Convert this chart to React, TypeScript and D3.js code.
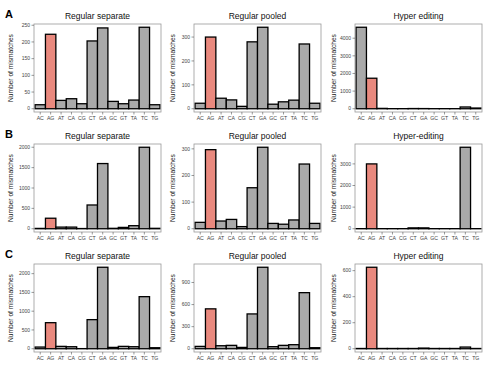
import React from "react";
import * as d3 from "d3";

const mismatchTypes = ["AC", "AG", "AT", "CA", "CG", "CT", "GA", "GC", "GT", "TA", "TC", "TG"];
const rowLetters = ["A", "B", "C"];
const columnTitles = [
  ["Regular separate", "Regular pooled", "Hyper editing"],
  ["Regular separate", "Regular pooled", "Hyper-editing"],
  ["Regular separate", "Regular pooled", "Hyper editing"],
];

const aSeparate = [12, 223, 25, 30, 15, 203, 242, 22, 15, 26, 244, 12];
const aPooled = [23, 300, 44, 37, 10, 280, 341, 19, 29, 36, 271, 23];
const aHyper = [4620, 1730, 20, 5, 5, 12, 10, 4, 5, 4, 100, 40];
const bSeparate = [8, 258, 40, 40, 5, 583, 1600, 10, 33, 75, 2000, 10];
const bPooled = [24, 297, 29, 35, 8, 154, 306, 20, 17, 33, 243, 20];
const bHyper = [4, 3000, 4, 4, 4, 40, 40, 4, 4, 4, 3770, 4];
const cSeparate = [45, 694, 63, 54, 3, 775, 2170, 36, 63, 54, 1387, 27];
const cPooled = [32, 542, 41, 46, 18, 473, 1107, 28, 46, 55, 762, 14];
const cHyper = [2, 626, 2, 2, 2, 2, 5, 2, 2, 2, 13, 2];

const aSeparateTicks = [0, 50, 100, 150, 200, 250];
const aPooledTicks = [0, 100, 200, 300];
const aHyperTicks = [0, 1000, 2000, 3000, 4000];
const bSeparateTicks = [0, 500, 1000, 1500, 2000];
const bPooledTicks = [0, 100, 200, 300];
const bHyperTicks = [0, 1000, 2000, 3000];
const cSeparateTicks = [0, 500, 1000, 1500, 2000];
const cPooledTicks = [0, 300, 600, 900];
const cHyperTicks = [0, 200, 400, 600];

const panelValues = [
  [aSeparate, aPooled, aHyper],
  [bSeparate, bPooled, bHyper],
  [cSeparate, cPooled, cHyper],
];
const panelTicks = [
  [aSeparateTicks, aPooledTicks, aHyperTicks],
  [bSeparateTicks, bPooledTicks, bHyperTicks],
  [cSeparateTicks, cPooledTicks, cHyperTicks],
];

const highlight = "AG";
const font = "Liberation Sans, Arial, sans-serif";
const colLeft = [34, 194, 355];
const plotW = 127;
const plotTop = 24;
const plotH = 88;
const rowH = 120;

function Panel({ values, ticks, title, left, top, yTitleX }: {
  values: number[];
  ticks: number[];
  title: string;
  left: number;
  top: number;
  yTitleX: number;
}) {
  const max = d3.max(values) as number;
  const y = d3
    .scaleLinear()
    .domain([-0.04 * max, 1.04 * max])
    .range([top + plotH, top]);
  const x = d3
    .scaleBand<string>()
    .domain(mismatchTypes)
    .range([left, left + plotW])
    .paddingOuter(0.1)
    .paddingInner(0);
  const bottom = top + plotH;

  return (
    <g>
      <text x={left + plotW / 2} y={top - 5} textAnchor="middle" fontSize={8.5} fontFamily={font} fill="#111">
        {title}
      </text>
      <text
        transform={`translate(${yTitleX},${top + plotH / 2}) rotate(-90)`}
        textAnchor="middle"
        fontSize={6.6}
        fontFamily={font}
        fill="#222"
      >
        Number of mismatches
      </text>
      {mismatchTypes.map((t, i) => (
        <rect
          key={t}
          x={x(t)}
          y={y(values[i])}
          width={x.bandwidth()}
          height={Math.max(0, y(0) - y(values[i]))}
          fill={t === highlight ? "#E9897E" : "#A9A9A9"}
          stroke="#000"
          strokeWidth={1.3}
        />
      ))}
      <rect x={left} y={top} width={plotW} height={plotH} fill="none" stroke="#9a9a9a" strokeWidth={0.8} />
      {ticks.map((t) => (
        <g key={t}>
          <line x1={left - 2.5} x2={left} y1={y(t)} y2={y(t)} stroke="#555" strokeWidth={0.6} />
          <text x={left - 4} y={y(t)} dy="0.35em" textAnchor="end" fontSize={5} fontFamily={font} fill="#444">
            {t}
          </text>
        </g>
      ))}
      {mismatchTypes.map((t) => {
        const cx = (x(t) as number) + x.bandwidth() / 2;
        return (
          <g key={t}>
            <line x1={cx} x2={cx} y1={bottom} y2={bottom + 2.5} stroke="#555" strokeWidth={0.6} />
            <text x={cx} y={bottom + 8} textAnchor="middle" fontSize={5.2} fontFamily={font} fill="#444">
              {t}
            </text>
          </g>
        );
      })}
    </g>
  );
}

export default function App() {
  const yTitleOffsets = [-21, -19, -19];
  return (
    <svg width={500} height={370} style={{ position: "absolute", left: 0, top: 0, background: "#fff" }}>
      {rowLetters.map((letter, r) => (
        <g key={letter}>
          <text x={5} y={r * rowH + 18} fontSize={11} fontWeight="bold" fontFamily={font} fill="#000">
            {letter}
          </text>
          {columnTitles[r].map((title, c) => (
            <Panel
              key={c}
              values={panelValues[r][c]}
              ticks={panelTicks[r][c]}
              title={title}
              left={colLeft[c]}
              top={r * rowH + plotTop}
              yTitleX={colLeft[c] + yTitleOffsets[c]}
            />
          ))}
        </g>
      ))}
    </svg>
  );
}
